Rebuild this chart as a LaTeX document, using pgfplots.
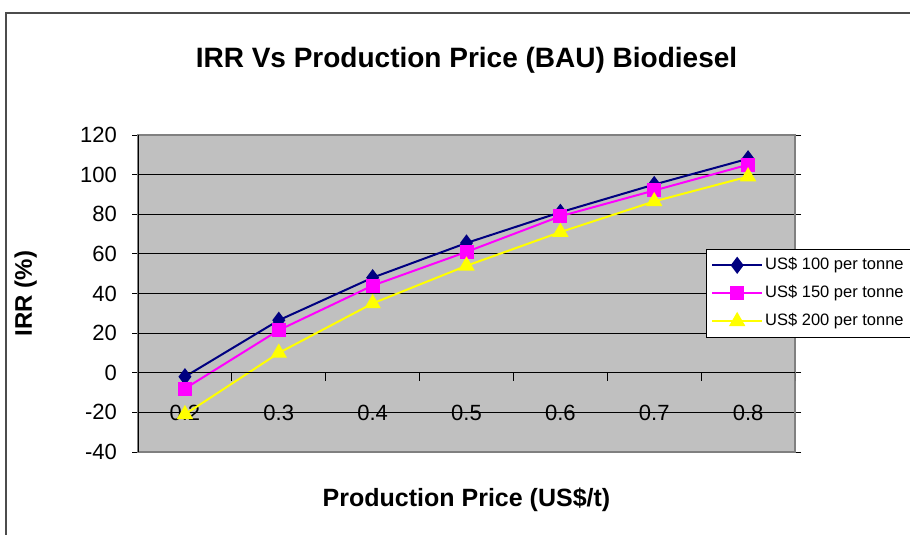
\documentclass[border=0pt]{standalone}
\usepackage{pgfplots}
\pgfplotsset{compat=1.18}
\usepackage{fontspec}
\setmainfont{Liberation Sans}
\definecolor{plotbg}{HTML}{C0C0C0}
\definecolor{sernavy}{HTML}{000080}
\definecolor{serpink}{HTML}{FF00FF}
\definecolor{seryellow}{HTML}{FFFF00}

\begin{document}
\begin{tikzpicture}
\useasboundingbox (0,0) rectangle (910pt,-535pt);
% chart frame
\draw[black!70, line width=1.2pt] (6pt,-535pt) -- (6pt,-13pt) -- (910pt,-13pt);
\begin{axis}[
    at={(138pt,-452pt)}, anchor=south west,
    width=657pt, height=317pt, scale only axis,
    xmin=-0.5, xmax=6.5,
    ymin=-40, ymax=120,
    ytick={-40,-20,...,120},
    xtick={0,...,6},
    xticklabels={0.2,0.3,0.4,0.5,0.6,0.7,0.8},
    axis background/.style={fill=plotbg},
    axis line style={black!50, line width=1.5pt},
    ymajorgrids,
    major grid style={black, line width=0.9pt},
    tick align=outside,
    major tick length=6pt,
    y tick style={black, line width=0.9pt},
    x tick style={draw=none},
    /pgf/number format/assume math mode=true,
    yticklabel={\pgfmathprintnumber{\tick}\hspace*{15pt}},
    yticklabel style={font=\fontsize{22}{26}\selectfont, anchor=east, inner sep=0pt},
    xticklabel style={font=\fontsize{22}{26}\selectfont, anchor=center, yshift=45pt},
    title={IRR Vs Production Price (BAU) Biodiesel},
    title style={font=\bfseries\fontsize{28}{32}\selectfont, at={(0.5,1.217)}, anchor=center, yshift=0pt},
    xlabel={Production Price (US\$/t)},
    xlabel style={font=\bfseries\fontsize{25}{28}\selectfont, at={(0.5,-0.152)}, anchor=center, yshift=0pt},
    ylabel={IRR (\%)},
    ylabel style={font=\bfseries\fontsize{24}{28}\selectfont, at={(-0.171,0.5)}, anchor=center, xshift=0pt},
    legend style={at={(0.8645,0.640)}, anchor=north west, draw=black, fill=white,
        font=\fontsize{16.5}{18}\selectfont, inner xsep=5pt, inner ysep=6pt, row sep=8pt,
        nodes={inner sep=2pt, text height=12pt, text depth=4pt}},
    legend cell align=left,
    legend image code/.code={\draw[mark repeat=2,mark phase=2] plot coordinates {(0pt,0pt) (25pt,0pt) (50pt,0pt)};},
    every axis plot/.append style={line width=2pt},
]
\addplot[sernavy, mark=diamond*, mark size=7pt] coordinates {
    (0,-2) (1,26.5) (2,48) (3,65.5) (4,81) (5,95) (6,108)
};
\addlegendentry{US\$ 100 per tonne}
\addplot[serpink, mark=square*, mark size=6pt] coordinates {
    (0,-8) (1,21.5) (2,44) (3,61) (4,79) (5,92) (6,105)
};
\addlegendentry{US\$ 150 per tonne}
\addplot[seryellow, mark=triangle*, mark size=7.5pt] coordinates {
    (0,-21) (1,10) (2,35) (3,54) (4,71) (5,86.5) (6,99)
};
\addlegendentry{US\$ 200 per tonne}
% category axis crossing at 0
\draw[black, line width=1pt] (axis cs:-0.5,0) -- (axis cs:6.5,0);
\draw[black, line width=0.9pt] (axis cs:0.5,0) -- (axis cs:0.5,-4);
\draw[black, line width=0.9pt] (axis cs:1.5,0) -- (axis cs:1.5,-4);
\draw[black, line width=0.9pt] (axis cs:2.5,0) -- (axis cs:2.5,-4);
\draw[black, line width=0.9pt] (axis cs:3.5,0) -- (axis cs:3.5,-4);
\draw[black, line width=0.9pt] (axis cs:4.5,0) -- (axis cs:4.5,-4);
\draw[black, line width=0.9pt] (axis cs:5.5,0) -- (axis cs:5.5,-4);
\draw[black, line width=0.9pt] (axis cs:6.5,0) -- (axis cs:6.5,-4);
\draw[black, line width=1pt] (rel axis cs:0,0) -- (rel axis cs:0,1);
\end{axis}
\end{tikzpicture}
\end{document}
